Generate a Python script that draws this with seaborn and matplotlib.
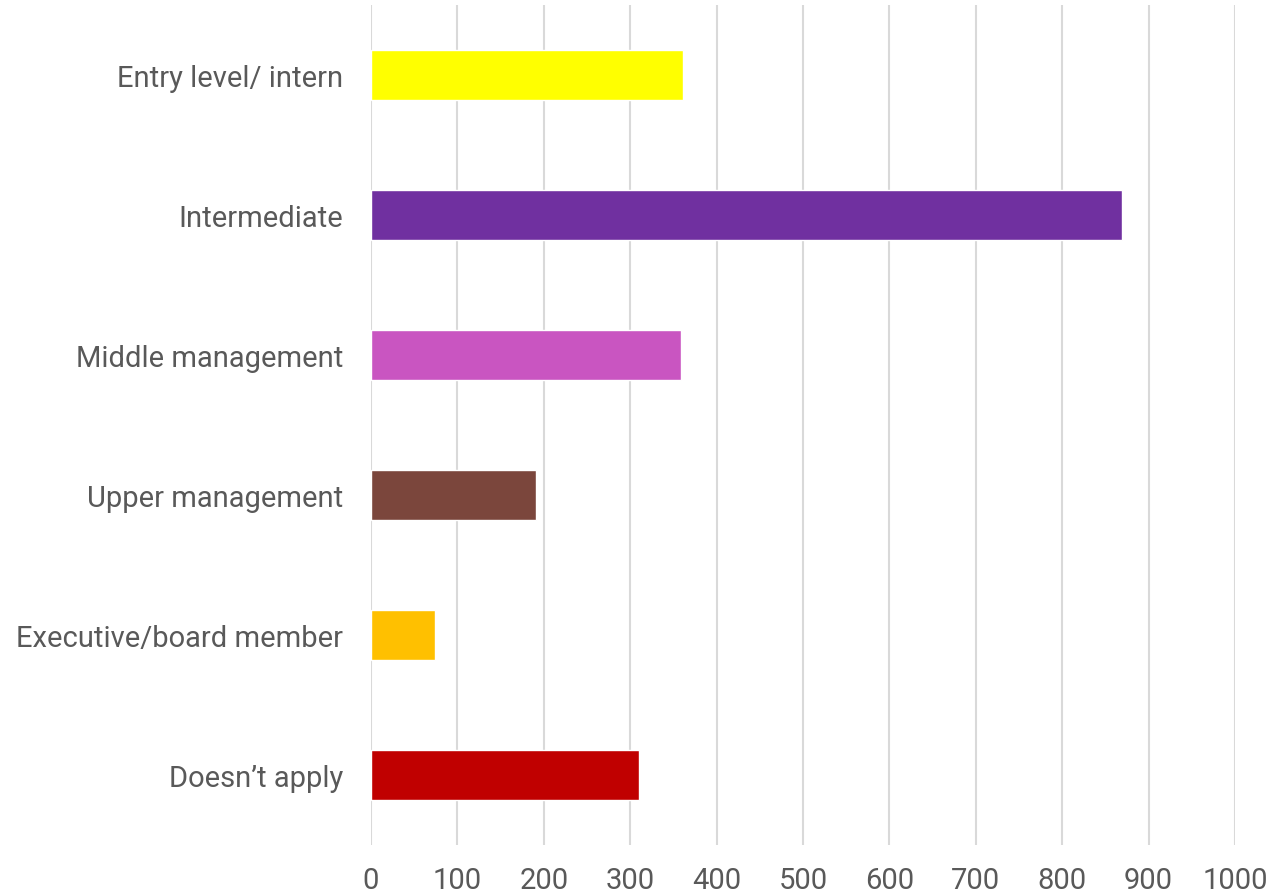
import pandas as pd
import matplotlib.pyplot as plt
import seaborn as sns

# --- Dados ---
categories = ["Entry level/ intern", "Intermediate", "Middle management",
              "Upper management", "Executive/board member", "Doesn\u2019t apply"]
values = [361, 869, 359, 191, 74, 310]
colors = ["#FFFF00", "#7030A0", "#C955C1", "#7B463C", "#FFC000", "#C00000"]
x_ticks = [0, 100, 200, 300, 400, 500, 600, 700, 800, 900, 1000]

df = pd.DataFrame({"category": categories, "count": values})

sns.set_theme(style="white")
plt.rcParams["font.family"] = ["Roboto", "DejaVu Sans"]

fig = plt.figure(figsize=(12.66, 8.95), dpi=100)
ax = fig.add_axes([0.293, 0.0547, 0.6825, 0.9386])

sns.barplot(data=df, x="count", y="category", hue="category",
            palette=dict(zip(categories, colors)), orient="h",
            width=0.36, legend=False, saturation=1, ax=ax)

ax.set_xlim(0, 1000)
ax.set_ylim(len(categories) - 0.5, -0.5)
ax.set_xticks(x_ticks)
ax.set_xlabel("")
ax.set_ylabel("")
ax.grid(axis="x", color="#D9D9D9", linewidth=1.5)
ax.set_axisbelow(True)
for s in ax.spines.values():
    s.set_visible(False)
ax.tick_params(axis="both", length=0, labelsize=21, colors="#595959")
ax.tick_params(axis="x", pad=15)
ax.tick_params(axis="y", pad=20)

fig.savefig("out.png", dpi=100)
